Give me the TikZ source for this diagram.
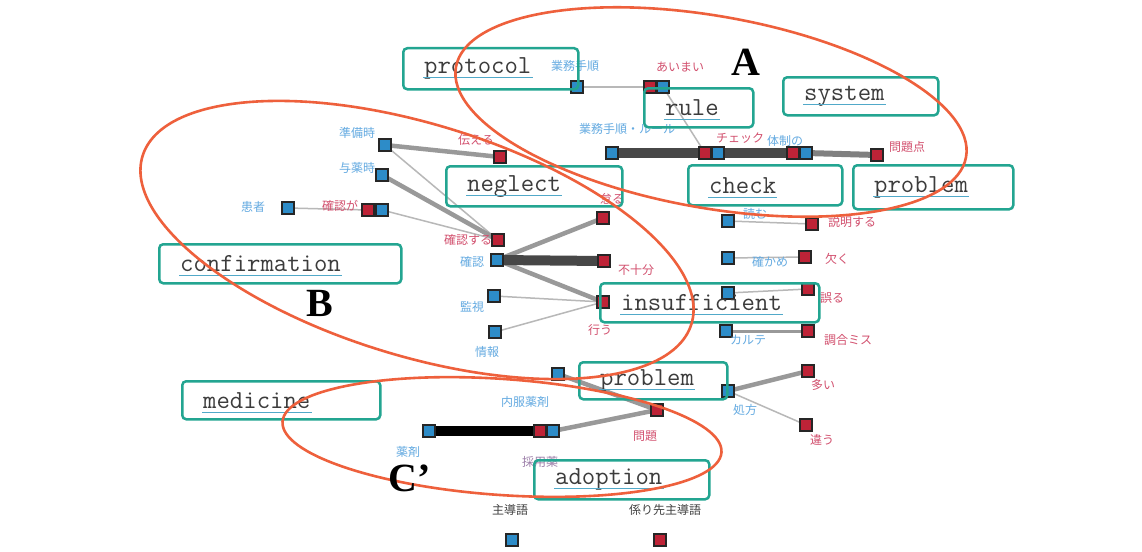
\documentclass[tikz,border=0pt]{standalone}
\usepackage{fontspec}
\setmainfont{Liberation Serif}
\newfontfamily\jp{Noto Sans CJK JP}
\usepackage{tikz}
\usetikzlibrary{positioning,backgrounds}

\definecolor{boxteal}{RGB}{35,165,145}
\definecolor{grporange}{RGB}{238,96,60}
\definecolor{sqblue}{RGB}{45,140,200}
\definecolor{sqred}{RGB}{190,35,55}
\definecolor{lblblue}{RGB}{100,170,225}
\definecolor{lblred}{RGB}{210,80,110}
\definecolor{kwtext}{RGB}{60,60,60}

\tikzset{
  wordbox/.style={draw=boxteal, line width=2.5pt, rounded corners=4pt, anchor=north west, inner sep=0pt},
  kw/.style={font=\ttfamily\fontsize{26}{26}\selectfont, text=kwtext, anchor=west, inner sep=1pt},
  uline/.style={draw=lblblue!70!boxteal, line width=0.8pt},
  bsq/.style={draw=black!85, line width=1.2pt, fill=sqblue, minimum size=12pt, inner sep=0pt},
  rsq/.style={bsq, fill=sqred},
  jb/.style={font=\jp\fontsize{12}{12}\selectfont, text=lblblue, inner sep=0pt},
  jr/.style={jb, text=lblred},
  jd/.style={jb, text=black!75},
  lnthin/.style={draw=black!28, line width=1.5pt},
  lnmid/.style={draw=black!40, line width=4.5pt},
  lnthick/.style={draw=black!72, line width=10pt},
  lnblack/.style={draw=black, line width=10pt},
  grp/.style={draw=grporange, line width=2.6pt},
  grpname/.style={font=\bfseries\fontsize{40}{40}\selectfont}
}

\begin{document}
\begin{tikzpicture}[x=1pt, y=-1pt]
    \begin{scope}[on background layer]
        \fill[white] (0,0) rectangle (1142,551);
    \end{scope}
    \useasboundingbox (0,0) rectangle (1142,551);

    % Word squares
    \foreach \n/\x/\y in {bA1/577/87, bA2/663/87, bA3/612/153, bA4/718/153, bA5/806/153,
        bB1/385/145, bB2/382/175, bB3/288/208, bB4/382/210, bB5/497/260, bB6/494/296, bB7/495/332,
        bR1/728/221, bR2/728/258, bR3/728/293, bR4/726/331,
        bC1/558/374, bC2/728/391, bC3/429/431, bC4/553/431, bL/512/540}
        \node[bsq] (\n) at (\x,\y) {};
    \foreach \n/\x/\y in {rA1/650/87, rA2/705/153, rA3/793/153, rA4/877/155,
        rB1/500/157, rB2/368/210, rB3/498/240, rB4/603/218, rB5/604/261, rB6/603/302,
        rR1/812/224, rR2/805/257, rR3/808/289, rR4/808/331,
        rC1/657/410, rC2/808/371, rC3/806/425, rC4/540/431, rL/660/540}
        \node[rsq] (\n) at (\x,\y) {};

    % Links
    \begin{scope}[on background layer]
        \foreach \a/\b in {bA1/rA1, bA2/rA2, bB1/rB3, bB3/rB2, bB4/rB3, bB6/rB6, bB7/rB6,
            bR1/rR1, bR2/rR2, bR3/rR3, bC2/rC3}
            \draw[lnthin] (\a.center) -- (\b.center);
        \foreach \a/\b in {bB1/rB1, bB2/rB3, bB5/rB4, bB5/rB6, bC1/rC1, bC2/rC2, bC4/rC1}
            \draw[lnmid] (\a.center) -- (\b.center);
        \draw[lnmid, draw=black!50, line width=6pt] (bA5.center) -- (rA4.center);
        \draw[lnmid, line width=3pt] (bR4.center) -- (rR4.center);
        \foreach \a/\b in {bA3/rA2, bA4/rA3, bB5/rB5}
            \draw[lnthick] (\a.center) -- (\b.center);
        \draw[lnblack] (bC3.center) -- (rC4.center);
    \end{scope}

    % Labels
    \foreach \n/\x/\y/\t in {tA1/575/66/業務手順, tA3/627/129/業務手順・ルール, tA5/785/141/体制の,
        tB1/357/133/準備時, tB2/357/168/与薬時, tB3/253/207/患者, tB5/472/262/確認,
        tB6/472/307/監視, tB7/487/352/情報,
        tR1/755/214/読む, tR2/770/262/確かめ, tR4/748/340/カルテ,
        tC1/525/402/内服薬剤, tC2/745/410/処方, tC3/408/452/薬剤}
        \node[jb] (\n) at (\x,\y) {\t};
    \node[jb, text=lblblue!50!lblred] (tC4) at (540,462) {採用薬};
    \foreach \n/\x/\y/\t in {sA1/680/67/あいまい, sA2/740/138/チェック, sA4/907/147/問題点,
        sB1/476/140/伝える, sB2/340/206/確認が, sB3/468/240/確認する, sB4/612/199/怠る,
        sB5/636/270/不十分, sB6/600/330/行う,
        sR1/852/222/説明する, sR2/837/259/欠く, sR3/832/298/誤る, sR4/848/340/調合ミス,
        sC1/645/436/問題, sC2/823/385/多い, sC3/822/440/違う}
        \node[jr] (\n) at (\x,\y) {\t};

    % Legend
    \node[jd] (legB) at (510,510) {主導語};
    \node[jd] (legR) at (665,510) {係り先主導語};

    % Keyword boxes
    \foreach \n/\x/\y/\w/\h/\t in {protocol/402/47/175/41/protocol, rule/643/87/109/39/rule,
        system/782/76/155/38/system, neglect/445/165/176/40/neglect, check/687/164/154/40/check,
        problemA/852/164/160/44/problem, confirmation/158/243/242/39/confirmation,
        insufficient/599/282/219/39/insufficient, problemC/578/361/148/37/problem,
        medicine/181/380/198/38/medicine, adoption/533/459/175/39/adoption}
    {
        \node[wordbox, minimum width=\w pt, minimum height=\h pt] (box-\n) at (\x,\y) {};
        \node[kw] (kw-\n) at ([xshift=21pt]box-\n.west) {\t};
        \draw[uline] ([yshift=-4pt]kw-\n.base west) -- ([yshift=-4pt]kw-\n.base east);
    }

    % Groups
    \draw[grp] (711,112) ellipse [x radius=259, y radius=96, rotate=-10];
    \draw[grp] (417,240) ellipse [x radius=287, y radius=116, rotate=-17];
    \draw[grp] (502,437) ellipse [x radius=220, y radius=58, rotate=-4];
    \node[grpname] (grpA) at (746,62) {A};
    \node[grpname] (grpB) at (320,303) {B};
    \node[grpname] (grpC) at (410,478) {C’};
\end{tikzpicture}
\end{document}
